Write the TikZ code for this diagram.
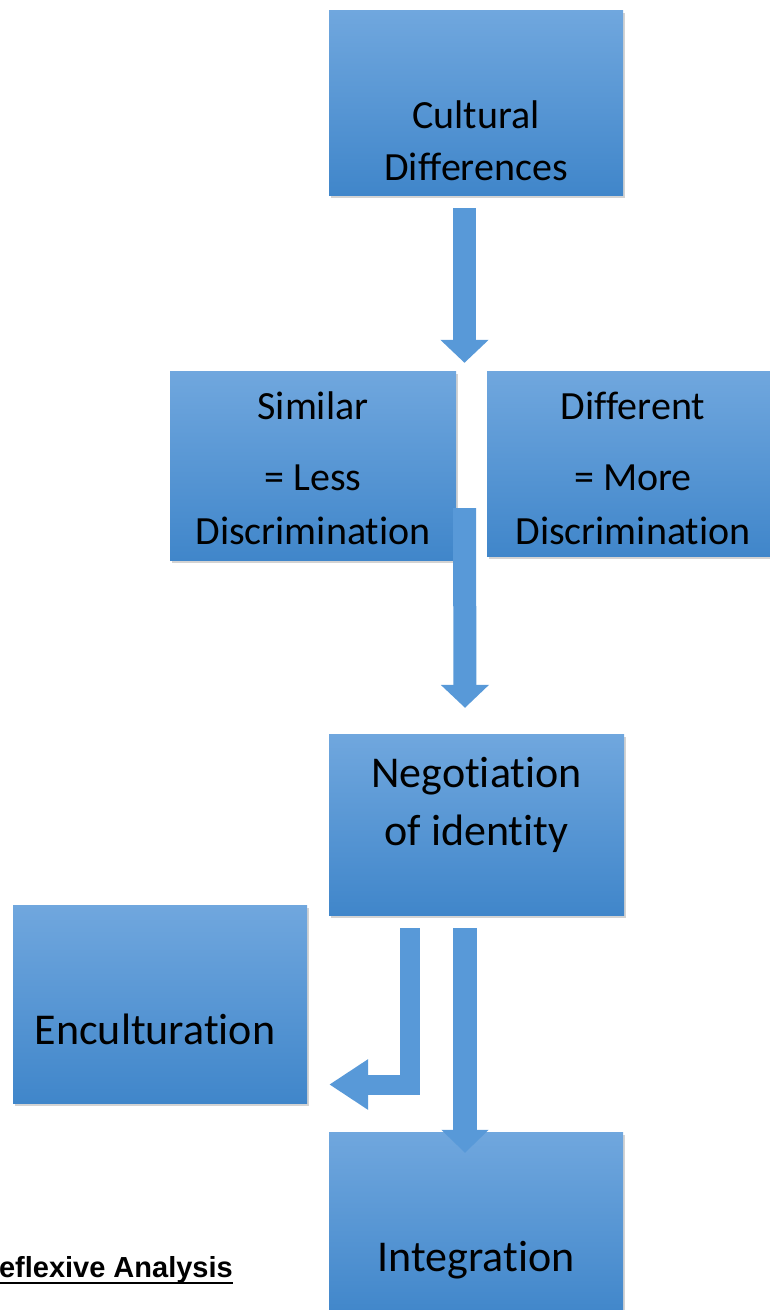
\documentclass[tikz,border=0pt]{standalone}
\usepackage{fontspec}
\setmainfont[Ligatures=NoCommon]{Carlito}
\newfontfamily\arialfont{Liberation Sans}
\usetikzlibrary{arrows.meta,calc,shadows}
\definecolor{boxtop}{RGB}{112,167,222}
\definecolor{boxmid}{RGB}{86,154,219}
\definecolor{boxbot}{RGB}{64,134,202}
\definecolor{arrblue}{RGB}{88,153,216}

\begin{document}
\begin{tikzpicture}[x=1pt,y=1pt,
  box/.style={rectangle, inner sep=0pt, top color=boxtop, middle color=boxmid, bottom color=boxbot,
    drop shadow={shadow xshift=2pt, shadow yshift=-3pt, opacity=.35}},
  txt/.style={align=center, inner sep=0pt, anchor=base},
  blk/.style={draw=arrblue, line width=23pt, -{Triangle[width=47pt,length=23pt]}}]

  \useasboundingbox (0,0) rectangle (770,-1310);
  \clip (0,0) rectangle (770,-1310);

  % boxes
  \node[box, minimum width=294pt, minimum height=185pt] (cd) at (476,-102.5) {};
  \node[box, minimum width=286pt, minimum height=189pt] (sim) at (313,-465.5) {};
  \node[box, minimum width=286pt, minimum height=185pt] (dif) at (630,-463.5) {};
  \node[box, minimum width=295pt, minimum height=181pt] (neg) at (476.5,-824.5) {};
  \node[box, minimum width=294pt, minimum height=198pt] (enc) at (160,-1004) {};
  \node[box, minimum width=294pt, minimum height=185pt] (int) at (476,-1224.5) {};

  % texts (base = last line)
  \node[txt, font=\fontsize{40}{52}\selectfont] (cdt) at (476,-180) {Cultural\\Differences};
  \node[txt, font=\fontsize{40}{54}\selectfont] (simt) at (313,-544) {Similar\\[17pt]= Less\\Discrimination};
  \node[txt, font=\fontsize{40}{54}\selectfont] (dift) at (633,-544) {Different\\[17pt]= More\\Discrimination};
  \node[txt, font=\fontsize{44}{58}\selectfont] (negt) at (476.5,-845) {Negotiation\\of identity};
  \node[txt, font=\fontsize{44}{58}\selectfont] (enct) at (155,-1044) {Enculturation};
  \node[txt, font=\fontsize{44}{58}\selectfont] (intt) at (476,-1271) {Integration};
  \node[inner sep=0pt, anchor=base east, font=\arialfont\bfseries\fontsize{29}{34}\selectfont] (ref) at (233,-1277) {Reflexive Analysis};
  \draw[line width=2.5pt] ([yshift=-6pt]ref.base west) -- ([yshift=-6pt]ref.base east);

  % arrows
  \draw[blk] ($(cd.south)+(-11.5,-13)$) -- ($(cd.south |- sim.north)+(-11.5,8)$);
  \draw[blk] ($(cd.south |- sim.south)+(-11.5,52)$) -- ($(neg.north)+(-11.5,26)$);
  \draw[blk, line width=24pt, -{Triangle[width=46pt,length=23pt]}] ($(neg.south)+(-11.5,-13)$) -- ($(int.north)+(-11,-21)$);
  \draw[blk, line width=20pt, -{Triangle[width=48pt,length=39pt]}] ($(neg.south)+(-66.5,-13)$) |- ($(enc.east)+(22,-80.5)$);
\end{tikzpicture}
\end{document}
